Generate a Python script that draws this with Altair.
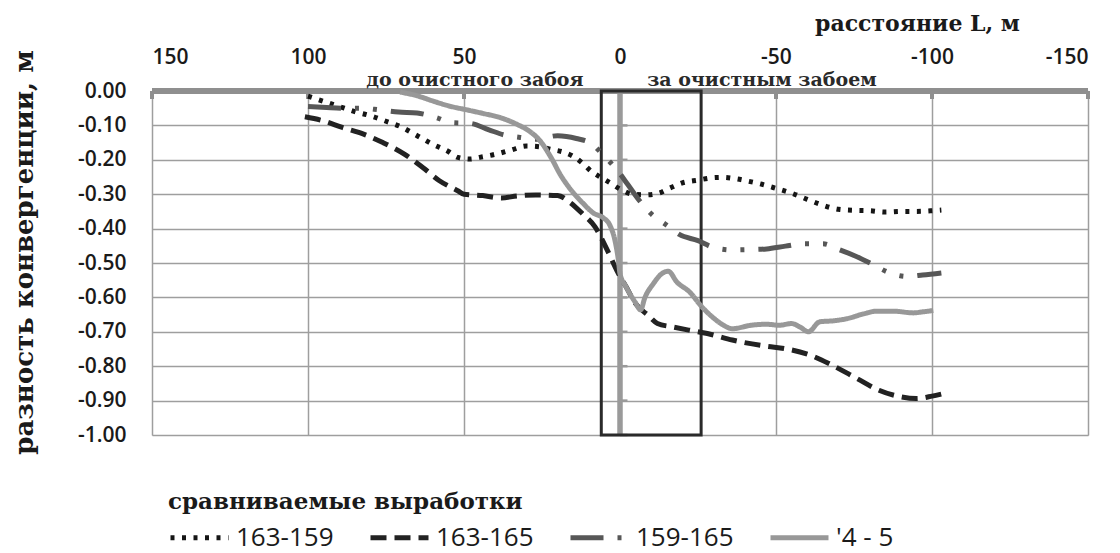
import altair as alt
import pandas as pd

# ---- data ----
series_names = ["163-159", "163-165", "159-165", "'4 - 5"]

L_163_159 = [100, 95, 90, 85, 80, 75, 70, 65, 60, 55, 52, 48, 45, 40, 35, 30, 26, 22, 18, 15,
             12, 9, 6, 3, 0, -4, -8, -12, -16, -20, -25, -30, -33, -37, -41, -45, -50, -55, -60, -65,
             -70, -75, -80, -85, -90, -95, -100, -103]
v_163_159 = [-0.015, -0.03, -0.045, -0.06, -0.072, -0.088, -0.105, -0.13, -0.155, -0.176,
             -0.193, -0.198, -0.193, -0.184, -0.172, -0.16, -0.162, -0.17, -0.178, -0.19,
             -0.21, -0.235, -0.252, -0.268, -0.285, -0.3, -0.302, -0.298, -0.282, -0.267,
             -0.259, -0.252, -0.251, -0.255, -0.262, -0.27, -0.283, -0.297, -0.315, -0.332,
             -0.344, -0.347, -0.348, -0.352, -0.35, -0.35, -0.348, -0.346]

L_163_165 = [101, 95, 89, 82, 76, 69, 63, 58, 52, 50, 44, 38, 33, 27, 20, 16, 12, 8, 4, 1,
             -2, -5, -9, -12, -17, -22, -28, -36, -47, -53, -61, -68, -76, -83, -90, -95, -100, -103]
v_163_165 = [-0.075, -0.087, -0.106, -0.126, -0.15, -0.184, -0.224, -0.26, -0.29, -0.3,
             -0.304, -0.311, -0.305, -0.302, -0.304, -0.324, -0.357, -0.395, -0.464, -0.522,
             -0.57, -0.618, -0.652, -0.676, -0.686, -0.695, -0.705, -0.724, -0.742, -0.749,
             -0.768, -0.797, -0.836, -0.87, -0.889, -0.894, -0.887, -0.881]

L_159_165 = [100, 94, 88, 83, 77, 71, 65, 59, 54, 48, 42, 37, 32, 27, 20, 14, 9, 5, 1, -2.5,
             -6, -10, -15, -19, -25, -30, -36, -42, -47, -53, -59, -65, -70, -75, -81, -86, -92, -97, -103]
v_159_165 = [-0.045, -0.048, -0.05, -0.05, -0.055, -0.061, -0.064, -0.077, -0.092, -0.094,
             -0.113, -0.128, -0.135, -0.14, -0.13, -0.138, -0.154, -0.19, -0.229, -0.272,
             -0.316, -0.357, -0.39, -0.417, -0.435, -0.455, -0.462, -0.461, -0.459, -0.451,
             -0.444, -0.444, -0.46, -0.478, -0.504, -0.527, -0.539, -0.535, -0.529]

L_4_5 = [70.5, 65, 60, 55, 49, 44, 38.5, 33, 29, 25.6, 22, 19, 15.5, 12, 8.5, 5.3, 3.2, 1.6, 0.5, 0,
         -2, -4.8, -6.6, -8, -10.7, -13.4, -15.5, -18.2, -22.4, -26, -30, -33, -36, -42, -47, -51,
         -55, -57.7, -60.4, -64, -68.4, -72.7, -78, -82.3, -87.6, -94, -97, -100.4]
v_4_5 = [-0.003, -0.014, -0.029, -0.043, -0.055, -0.065, -0.077, -0.097, -0.117, -0.145,
         -0.195, -0.245, -0.29, -0.325, -0.355, -0.369, -0.391, -0.435, -0.493, -0.531,
         -0.57, -0.613, -0.636, -0.6, -0.56, -0.531, -0.524, -0.555, -0.585, -0.625,
         -0.66, -0.68, -0.691, -0.681, -0.678, -0.681, -0.676, -0.686, -0.7, -0.671,
         -0.668, -0.662, -0.648, -0.64, -0.64, -0.645, -0.642, -0.638]

x_ticks = [150, 100, 50, 0, -50, -100, -150]
y_ticks = [0.0, -0.1, -0.2, -0.3, -0.4, -0.5, -0.6, -0.7, -0.8, -0.9, -1.0]

zone_L = [6, -26]          # highlighted zone (rectangle)
zone_labels = ["до очистного забоя", "за очистным забоем"]
zone_label_L = [46.5, -45.5]

# ---- tables ----
rows = []
for name, Ls, vs in zip(series_names,
                        [L_163_159, L_163_165, L_159_165, L_4_5],
                        [v_163_159, v_163_165, v_159_165, v_4_5]):
    for i, (a, b) in enumerate(zip(Ls, vs)):
        rows.append({"series": name, "L": a, "v": b, "idx": i})
df = pd.DataFrame(rows)

x_scale = alt.Scale(domain=[150, -150], nice=False, zero=False)
y_scale = alt.Scale(domain=[-1.0, 0.0], nice=False, zero=False)

LABEL_FONT = "Open Sans"
SERIF = "DejaVu Serif"
GRID = "#9e9e9e"
AXIS_GRAY = "#8f8f8f"

x_axis = alt.Axis(orient="top", values=x_ticks, grid=True, gridColor=GRID, gridWidth=1.5,
                  domain=False, ticks=False,
                  labelExpr="replace(format(datum.value, 'd'), '\u2212', '-')",
                  labelFont=LABEL_FONT, labelFontSize=21, labelFontWeight=600,
                  labelColor="#1a1a1a", labelPadding=24,
                  title="расстояние L, м", titleFont=SERIF, titleFontSize=22,
                  titleFontWeight="bold", titleColor="#1a1a1a",
                  titleX=765, titleY=-68, titleAlign="center", titleBaseline="middle")
y_axis = alt.Axis(orient="left", values=y_ticks, grid=True, gridColor=GRID, gridWidth=1.5,
                  domain=False, ticks=False,
                  labelExpr="replace(format(datum.value, '.2f'), '\u2212', '-')",
                  labelFont=LABEL_FONT, labelFontSize=21, labelFontWeight=600,
                  labelColor="#1a1a1a", labelPadding=26,
                  title="разность конвергенции, м", titleFont=SERIF, titleFontSize=26,
                  titleFontWeight="bold", titleColor="#1a1a1a",
                  titleAngle=270, titleX=-128, titleY=161,
                  titleAlign="center", titleBaseline="middle")


def XF(field):
    return alt.X(field, type="quantitative", scale=x_scale, axis=x_axis)


def YF(field):
    return alt.Y(field, type="quantitative", scale=y_scale, axis=y_axis)


def XD(val):
    return alt.X(datum=val, type="quantitative", scale=x_scale, axis=x_axis)


def YD(val):
    return alt.Y(datum=val, type="quantitative", scale=y_scale, axis=y_axis)


one = pd.DataFrame({"k": [0]})

# vertical axis line at L = 0
vline = alt.Chart(one).mark_rule(color="#9a9a9a", strokeWidth=5.5).encode(
    x=XD(0), y=YD(0.0), y2=alt.datum(-1.0))

# inward ticks on the vertical axis line
vt_df = pd.DataFrame({"v": y_ticks[1:]})
vticks = alt.Chart(vt_df).mark_rule(color="#9a9a9a", strokeWidth=2.5).encode(
    x=XD(0), x2=alt.datum(-2.4), y=YF("v"))

# top axis line at v = 0
hline = alt.Chart(one).mark_rule(color=AXIS_GRAY, strokeWidth=6).encode(
    x=XD(150), x2=alt.datum(-150), y=YD(0.0))

# inward ticks on the top axis line
ht_df = pd.DataFrame({"L": [t for t in x_ticks if t != 0]})
hticks = alt.Chart(ht_df).mark_rule(color=AXIS_GRAY, strokeWidth=4).encode(
    x=XF("L"), y=alt.value(0), y2=alt.value(8))

# rectangle marking the zone
zone_df = pd.DataFrame({"L": [zone_L[0]], "L2": [zone_L[1]]})
zone = alt.Chart(zone_df).mark_rect(fillOpacity=0, stroke="#2a2a2a", strokeWidth=3).encode(
    x=XF("L"), x2="L2:Q", y=YD(0.0), y2=alt.datum(-1.0))

leg = alt.Legend(title="сравниваемые выработки", orient="none", legendX=16, legendY=400,
                 direction="horizontal", columns=4, columnPadding=26,
                 titleFont=SERIF, titleFontSize=23, titleFontWeight="bold", titleColor="#1a1a1a",
                 titlePadding=-8, titleAnchor="start", titleLimit=600,
                 labelFont=LABEL_FONT, labelFontSize=26, labelColor="#1a1a1a", labelOffset=5,
                 labelLimit=300, symbolType="stroke", symbolSize=3364, padding=0)

lines = alt.Chart(df).mark_line(interpolate="monotone").encode(
    x=XF("L"),
    y=YF("v"),
    order=alt.Order("idx:Q"),
    color=alt.Color("series:N", legend=leg,
                    scale=alt.Scale(domain=series_names,
                                    range=["#151515", "#222222", "#575757", "#989898"])),
    strokeDash=alt.StrokeDash("series:N", legend=leg,
                              scale=alt.Scale(domain=series_names,
                                              range=[[4, 7.5], [16, 8],
                                                     [33, 14, 4, 14, 4, 14], [1, 0]])),
    strokeWidth=alt.StrokeWidth("series:N", legend=leg,
                                scale=alt.Scale(domain=series_names, range=[5, 5, 4.5, 3.5])),
)

ann_df = pd.DataFrame({"text": zone_labels, "L": zone_label_L})
ann = alt.Chart(ann_df).mark_text(font=SERIF, fontSize=19, fontWeight="bold", color="#2a2a2a",
                                  baseline="alphabetic", align="center", dy=-5).encode(
    x=XF("L"), y=YD(0.0), text="text:N")

chart = alt.layer(vline, vticks, hline, hticks, zone, lines, ann).properties(
    width=936, height=344,
    autosize=alt.AutoSizeParams(type="none"),
    padding={"left": 144, "top": 83, "right": 16, "bottom": 118},
).configure_view(stroke=None).configure(background="white")

chart.save("out.html", embed_options={"renderer": "svg", "actions": False})
